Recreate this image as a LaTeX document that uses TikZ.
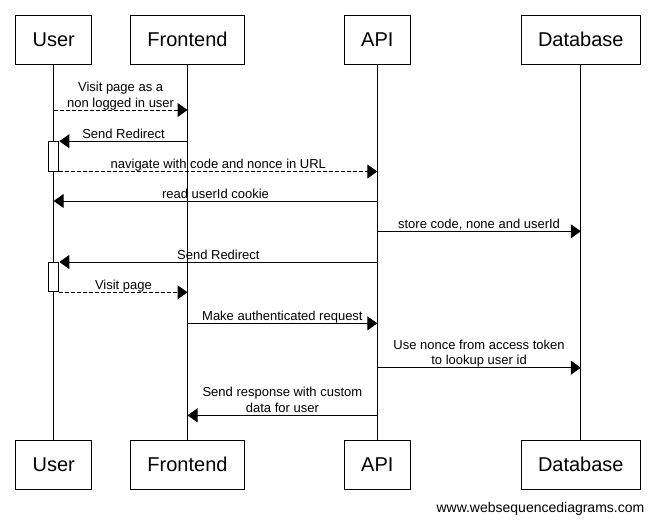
\documentclass[tikz,border=0pt]{standalone}
\usepackage{fontspec}
\setmainfont{Liberation Sans}
\usepackage{tikz}
\usetikzlibrary{arrows.meta,positioning}

\newcommand{\headfont}{\fontsize{20}{24}\selectfont}
\newcommand{\msgfont}{\fontsize{13}{15.5}\selectfont}

\tikzset{
	actor/.style={draw, line width=1pt, fill=white, minimum height=49pt, inner xsep=17pt, text height=14.3pt, text depth=0pt, font=\headfont},
	life/.style={line width=1pt},
	msg/.style={line width=1pt, -{Triangle[length=10pt,width=14pt]}},
	reply/.style={msg, dash pattern=on 4pt off 2pt},
	actbox/.style={draw, line width=1pt, fill=white, minimum width=10.4pt, minimum height=29.3pt, inner sep=0pt},
	lbl/.style={midway, above, align=center, font=\msgfont, inner xsep=0pt, inner ysep=2.5pt, text depth=0pt}
}

\begin{document}
\begin{tikzpicture}[x=1pt,y=1pt]
\useasboundingbox (0,0) rectangle (655,-525);

% participants, top and bottom
\node[actor] (user) at (53.7,-39.5) {User};
\node[actor] (front) at (187.5,-39.5) {Frontend};
\node[actor] (api) at (377.3,-39.5) {API};
\node[actor] (db) at (580.8,-39.5) {Database};
\node[actor] (userB) at (53.7,-464.5) {User};
\node[actor] (frontB) at (187.5,-464.5) {Frontend};
\node[actor] (apiB) at (377.3,-464.5) {API};
\node[actor] (dbB) at (580.8,-464.5) {Database};

% lifelines
\foreach \p in {user,front,api,db}
	\draw[life] (\p.south) -- (\p B.north);

% activations of the user
\node[actbox] (act1) at (user |- 0,-156.35) {};
\node[actbox] (act2) at (user |- 0,-277.15) {};

% messages
\draw[reply] (user |- 0,-110) -- node[lbl]{Visit page as a\\non logged in user} (front |- 0,-110);
\draw[msg] (front |- act1.north) -- node[lbl]{Send Redirect} (act1.north east);
\draw[reply] (act1.south east) -- node[lbl]{navigate with code and nonce in URL} (api |- act1.south);
\draw[msg] (api |- 0,-201) -- node[lbl]{read userId cookie} (user |- 0,-201);
\draw[msg] (api |- 0,-231.3) -- node[lbl]{store code, none and userId} (db |- 0,-231.3);
\draw[msg] (api |- act2.north) -- node[lbl]{Send Redirect} (act2.north east);
\draw[reply] (act2.south east) -- node[lbl]{Visit page} (front |- act2.south);
\draw[msg] (front |- 0,-323.3) -- node[lbl]{Make authenticated request} (api |- 0,-323.3);
\draw[msg] (api |- 0,-367.7) -- node[lbl]{Use nonce from access token\\to lookup user id} (db |- 0,-367.7);
\draw[msg] (api |- 0,-415.3) -- node[lbl]{Send response with custom\\data for user} (front |- 0,-415.3);

% credit line
\node[anchor=base east, inner sep=0pt, font=\fontsize{14}{16}\selectfont] (credit) at (644.5,-512) {www.websequencediagrams.com};
\end{tikzpicture}
\end{document}
